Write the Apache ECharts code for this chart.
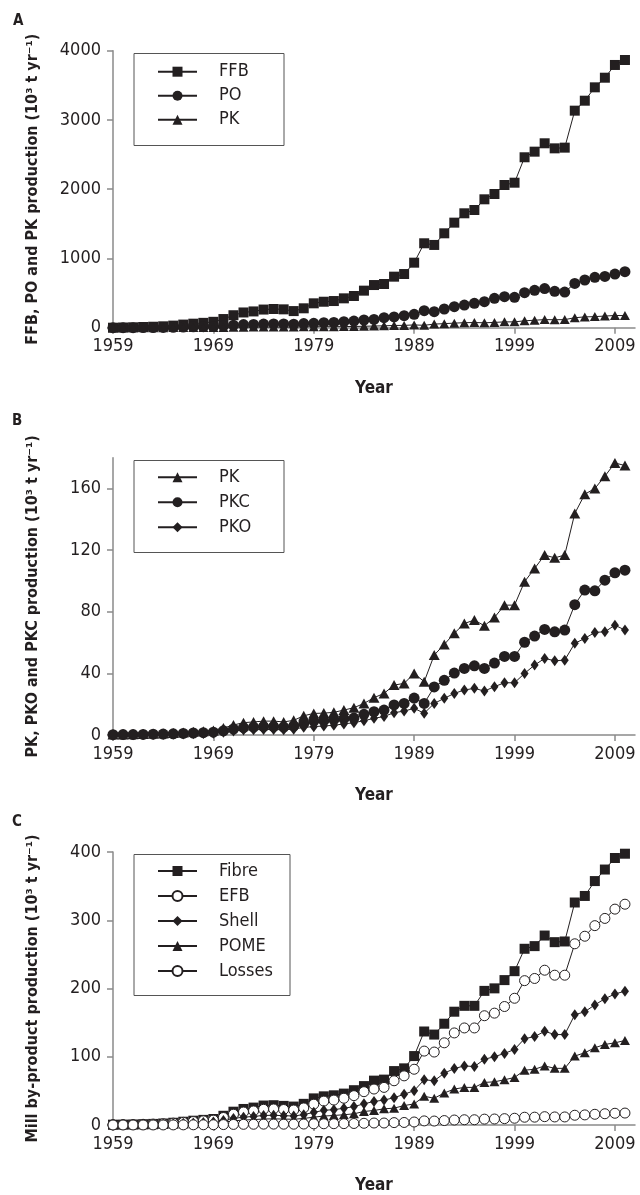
<!DOCTYPE html>
<html><head><meta charset="utf-8">
<script src="https://cdn.jsdelivr.net/npm/echarts@6/dist/echarts.min.js"></script>
<style>html,body{margin:0;padding:0;background:#fff}#c{width:640px;height:1195px}</style>
</head><body><div id="c"></div>
<script>
const years = [1959,1960,1961,1962,1963,1964,1965,1966,1967,1968,1969,1970,1971,1972,1973,1974,1975,1976,1977,1978,1979,1980,1981,1982,1983,1984,1985,1986,1987,1988,1989,1990,1991,1992,1993,1994,1995,1996,1997,1998,1999,2000,2001,2002,2003,2004,2005,2006,2007,2008,2009,2010];
const yearTicks = [1959,1969,1979,1989,1999,2009];

// Panel A
const ffb = [0,3,6,10,14,20,30,45,58,70, 85,125,180,220,235,262,270,265,240,280, 352,375,385,424,458,535,616,631,737,775, 939,1219,1195,1363,1517,1652,1700,1854,1931,2061, 2094,2461,2542,2663,2590,2600,3134,3278,3471,3610, 3794,3866];
const po = [0,1,1,2,3,4,6,9,12,14, 17,25,36,45,48,53,55,54,50,60, 63,72,76,87,95,111,120,144,155,173, 193,246,231,270,303,327,352,376,424,448, 438,505,540,565,525,515,640,689,727,740, 775,809];
// Panel A & B
const pk = [0.3,0.4,0.5,0.6,0.8,1.0,1.3,1.7,2.1,2.5, 3.0,4.5,6.5,8.0,8.5,9.0,9.0,8.5,9.5,12.5, 14.0,14.2,14.7,16.2,17.7,20.5,24.2,27.0,32.4,33.5, 40.0,34.6,51.9,58.8,66.0,72.4,74.6,70.9,76.3,84.3, 84.3,99.5,108.1,116.8,115.0,116.8,143.8,156.3,160.0,168.0, 176.6,174.9];
const pkc = [0.2,0.25,0.3,0.4,0.5,0.6,0.8,1.0,1.3,1.5, 1.8,2.7,3.9,4.8,5.1,5.4,5.4,5.1,5.7,7.5, 9.0,9.3,10.0,10.6,11.0,13.4,15.1,16.2,19.5,20.5, 24.0,20.5,31.2,35.5,40.2,43.2,44.9,43.2,46.7,51.0, 51.0,60.2,64.2,68.5,67.0,68.1,84.6,94.1,93.6,100.5, 105.3,107.0];
const pko = [0.1,0.15,0.2,0.25,0.3,0.4,0.5,0.7,0.85,1.0, 1.2,1.8,2.6,3.2,3.4,3.6,3.6,3.4,3.8,5.0, 5.4,5.9,6.3,7.2,8.0,9.3,10.8,12.0,14.5,15.5, 17.3,14.1,20.5,23.8,27.0,29.2,30.3,28.5,31.4,33.9, 33.9,40.0,45.4,49.7,48.2,48.6,59.5,62.7,66.6,67.0, 71.3,68.1];
// Panel C
const fibre = [0.5,0.6,0.8,1.2,1.6,2.2,3.3,4.8,6.3,7.5, 8.8,13.5,19.5,23.5,25.5,28.5,29.0,28.0,27.0,31.0, 39.0,42.0,43.5,46.0,51.0,57.0,65.0,66.5,79.0,83.0, 101.0,137.0,132.5,148.4,166.0,174.6,174.6,196.5,200.2,212.3, 225.4,258.2,262.1,277.6,267.9,268.9,326.0,335.6,357.4,374.3, 391.2,397.5];
const efb = [0.4,0.5,0.6,1.0,1.3,1.8,2.7,3.9,5.1,6.1, 7.1,11.0,15.8,19.0,20.6,23.0,23.5,22.7,21.9,25.0, 30.5,35.0,36.5,39.2,43.0,48.8,52.7,55.1,64.8,72.0, 81.7,108.3,106.9,120.4,134.9,142.2,142.2,160.1,163.9,173.6, 185.7,211.5,214.7,226.8,219.5,219.5,265.5,276.6,292.1,302.7, 316.3,323.5];
const shell = [0.25,0.3,0.4,0.6,0.8,1.1,1.6,2.4,3.1,3.7, 4.3,6.6,9.6,11.5,12.5,14.0,14.2,13.7,13.2,15.2, 18.5,21.5,22.5,24.5,27.0,31.0,34.5,36.5,40.0,45.0, 50.3,66.3,64.8,75.9,82.7,86.6,85.6,96.3,100.1,104.9, 110.7,126.5,129.5,137.3,132.5,132.5,161.5,166.0,176.0,185.0, 192.0,196.0];
const pome = [0.15,0.2,0.25,0.4,0.5,0.7,1.0,1.5,2.0,2.3, 2.7,4.2,6.0,7.3,7.9,8.8,9.0,8.7,8.4,9.6, 11.5,13.1,14.0,15.0,16.4,19.8,21.3,23.7,24.7,28.5, 30.9,42.1,39.2,46.9,52.7,55.1,55.1,62.4,63.3,66.3, 69.6,80.3,81.7,86.6,83.0,83.0,101.0,105.9,113.2,118.0, 120.4,123.8];
const losses = [0.02,0.03,0.04,0.05,0.07,0.1,0.15,0.2,0.28,0.33, 0.39,0.6,0.86,1.0,1.1,1.25,1.3,1.2,1.2,1.4, 1.7,1.8,1.9,2.0,2.2,2.5,2.9,2.9,3.5,3.7, 4.4,6.0,5.8,6.5,7.3,7.7,7.7,8.6,8.8,9.3, 9.9,11.4,11.5,12.2,11.8,11.8,14.3,14.8,15.7,16.5, 17.2,17.5];

const yTicksA = [0,1000,2000,3000,4000];
const yTicksB = [0,40,80,120,160];
const yTicksC = [0,100,200,300,400];

const FONT = "'Liberation Sans Narrow','Arial Narrow','DejaVu Sans Condensed',sans-serif";
const INK = '#231f20';
const AX = '#8a8a8a';

function pairs(arr){ return years.map((y,i)=>[y,arr[i]]); }
const plain = v => String(v);

function xAxis(gi){
  return {
    type:'value', gridIndex:gi, min:1959, max:2011,
    name:'Year', nameLocation:'middle', nameGap:52,
    nameTextStyle:{fontFamily:FONT, fontWeight:'bold', fontSize:17, color:INK},
    axisLine:{show:true, onZero:false, lineStyle:{color:AX, width:1.5}},
    axisTick:{show:true, length:6, inside:false, customValues:yearTicks, lineStyle:{color:AX, width:1.5}},
    axisLabel:{customValues:yearTicks, formatter:plain, margin:10, fontFamily:FONT, fontSize:18, color:INK},
    splitLine:{show:false}
  };
}
function yAxis(gi, max, interval, ticks, name){
  return {
    type:'value', gridIndex:gi, min:0, max:max, interval:interval,
    name:name, nameLocation:'middle', nameGap:72,
    nameTextStyle:{fontFamily:FONT, fontWeight:'bold', fontSize:16, color:INK},
    axisLine:{show:true, lineStyle:{color:AX, width:1.5}},
    axisTick:{show:true, length:6, customValues:ticks, lineStyle:{color:AX, width:1.5}},
    axisLabel:{customValues:ticks, formatter:plain, margin:12, fontFamily:FONT, fontSize:18, color:INK},
    splitLine:{show:false}
  };
}
function series(name, arr, gi, symbol, size, open){
  return {
    type:'line', name:name, xAxisIndex:gi, yAxisIndex:gi, data:pairs(arr),
    symbol:symbol, symbolSize:size, showAllSymbol:true,
    lineStyle:{color:INK, width:1},
    itemStyle:open ? {color:'#fff', borderColor:INK, borderWidth:1} : {color:INK, borderColor:INK, borderWidth:0},
    emphasis:{disabled:true}, animation:false
  };
}
function legend(names, top, gap){
  return {
    orient:'vertical', left:157, top:top, padding:0, itemGap:gap,
    itemWidth:39, itemHeight:12.5, data:names,
    textStyle:{fontFamily:FONT, fontSize:18, color:INK, lineHeight:18, padding:[0,0,0,17]},
    selectedMode:false
  };
}
function box(x,y,w,h){
  return {type:'rect', left:x, top:y, shape:{width:w, height:h}, style:{fill:'none', stroke:'#555', lineWidth:1}, z:100};
}
function label(t,x,y){
  return {type:'text', left:x, top:y, style:{text:t, fontFamily:FONT, fontWeight:'bold', fontSize:15, fill:INK}};
}

const chart = echarts.init(document.getElementById('c'), null, {renderer:'canvas'});
chart.setOption({
  animation:false,
  backgroundColor:'#fff',
  grid:[
    {left:113, right:5, top:50.7, height:277},
    {left:113, right:5, top:457.7, height:277.3},
    {left:113, right:5, top:852, height:276}
  ],
  xAxis:[xAxis(0), xAxis(1), xAxis(2)],
  yAxis:[
    yAxis(0, 4000, 1000, yTicksA, 'FFB, PO and PK production (10³ t yr⁻¹)'),
    yAxis(1, 180, 40, yTicksB, 'PK, PKO and PKC production (10³ t yr⁻¹)'),
    yAxis(2, 400, 100, yTicksC, 'Mill by-product production (10³ t yr⁻¹)')
  ],
  legend:[
    legend(['FFB','PO','PK'], 62.7, 6),
    legend(['PK','PKC','PKO'], 468.3, 7),
    legend(['Fibre','EFB','Shell','POME','Losses'], 862, 7)
  ],
  graphic:[
    box(131.5, 51, 150, 92), box(131.5, 458, 150, 92), box(131.5, 852, 156, 141),
    label('A', 13, 14), label('B', 12, 414), label('C', 12, 815)
  ],
  series:[
    series('FFB', ffb, 0, 'rect', 10),
    series('PO', po, 0, 'circle', 11),
    series('PK', pk, 0, 'triangle', [10,9]),
    series('PK', pk, 1, 'triangle', [11,10]),
    series('PKC', pkc, 1, 'circle', 11),
    series('PKO', pko, 1, 'diamond', [8,11]),
    series('Fibre', fibre, 2, 'rect', 10),
    series('EFB', efb, 2, 'circle', 10, true),
    series('Shell', shell, 2, 'diamond', [8,11]),
    series('POME', pome, 2, 'triangle', [10,9]),
    series('Losses', losses, 2, 'circle', 10, true)
  ]
});
</script>
</body></html>
